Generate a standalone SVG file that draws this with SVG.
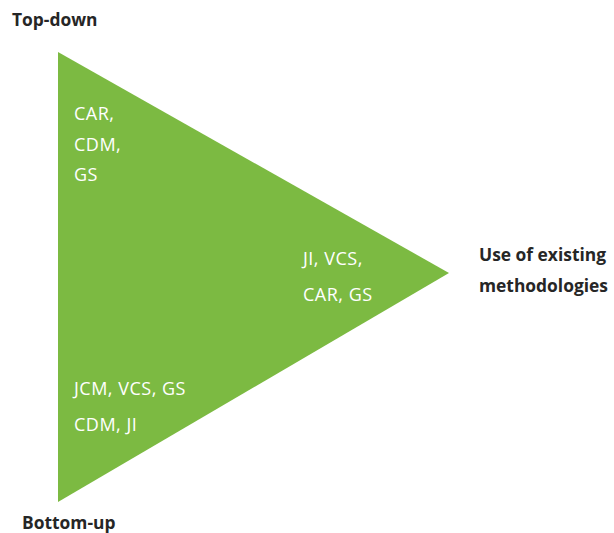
<svg xmlns="http://www.w3.org/2000/svg" width="614" height="533" viewBox="0 0 614 533">
<style>
.lbl{font-family:"Open Sans","Liberation Sans",sans-serif;font-size:18px;letter-spacing:0.5px;fill:#ffffff}
.hd{font-family:"Open Sans","Liberation Sans",sans-serif;font-size:17.4px;font-weight:bold;fill:#262626}
</style>
<rect width="614" height="533" fill="#ffffff"/>
<g id="triangle">
<polygon points="58,52 58,502 449,273" fill="#7cba42"/>
<text class="lbl" x="74" y="120">CAR,</text>
<text class="lbl" x="74" y="151">CDM,</text>
<text class="lbl" x="74" y="181">GS</text>
<text class="lbl" x="303" y="265">JI, VCS,</text>
<text class="lbl" x="303" y="301">CAR, GS</text>
<text class="lbl" x="74" y="395">JCM, VCS, GS</text>
<text class="lbl" x="74" y="431">CDM, JI</text>
</g>
<g id="labels">
<text class="hd" x="12" y="26">Top-down</text>
<text class="hd" x="479" y="261">Use of existing</text>
<text class="hd" x="479" y="292">methodologies</text>
<text class="hd" x="22" y="529">Bottom-up</text>
</g>
</svg>
